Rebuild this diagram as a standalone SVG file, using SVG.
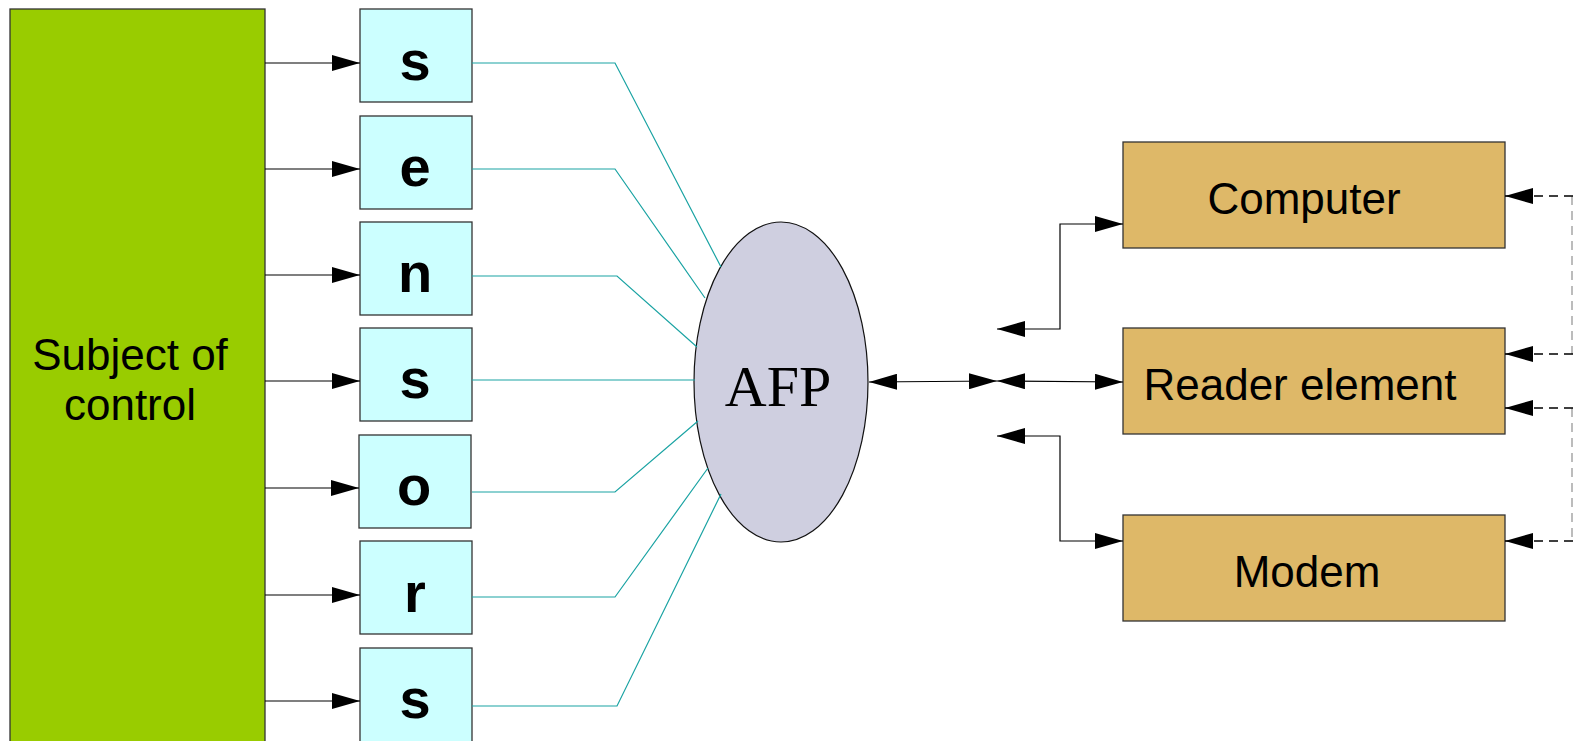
<svg xmlns="http://www.w3.org/2000/svg" width="1573" height="741" viewBox="0 0 1573 741">
<style>
.sensor{fill:#ccffff;stroke:#333;stroke-width:1.3}
.box{fill:#deb868;stroke:#333;stroke-width:1.3}
.letter{font-family:"Liberation Sans",Arial,sans-serif;font-weight:bold;font-size:56px;text-anchor:middle;fill:#000}
.lbl{font-family:"Liberation Sans",Arial,sans-serif;font-size:44px;text-anchor:middle;fill:#000}
.bl{fill:none;stroke:#000;stroke-width:1.2}
.tl{fill:none;stroke:#1aa3a3;stroke-width:1.2}
.dl{fill:none;stroke:#000;stroke-width:1.3;stroke-dasharray:9,6}
.dg{fill:none;stroke:#999;stroke-width:1.3;stroke-dasharray:9,6}
</style>
<defs>
<marker id="ah" markerWidth="28" markerHeight="16" refX="28" refY="8" orient="auto" markerUnits="userSpaceOnUse"><path d="M0,0 L28,8 L0,16 Z" fill="#000"/></marker>
<marker id="as" markerWidth="28" markerHeight="16" refX="0" refY="8" orient="auto" markerUnits="userSpaceOnUse"><path d="M28,0 L0,8 L28,16 Z" fill="#000"/></marker>
</defs>
<rect width="1573" height="741" fill="#fff"/>
<g id="subject">
<rect x="10" y="9" width="255" height="740" fill="#99cc00" stroke="#333" stroke-width="1.3"/>
<text class="lbl" x="130" y="370">Subject of</text>
<text class="lbl" x="130" y="420">control</text>
</g>
<g id="sensor1"><rect class="sensor" x="360" y="9" width="112" height="93"/><text class="letter" x="415" y="80">s</text></g>
<g id="sensor2"><rect class="sensor" x="360" y="116" width="112" height="93"/><text class="letter" x="415" y="186">e</text></g>
<g id="sensor3"><rect class="sensor" x="360" y="222" width="112" height="93"/><text class="letter" x="415" y="292">n</text></g>
<g id="sensor4"><rect class="sensor" x="360" y="328" width="112" height="93"/><text class="letter" x="415" y="398">s</text></g>
<g id="sensor5"><rect class="sensor" x="359" y="435" width="112" height="93"/><text class="letter" x="414" y="505">o</text></g>
<g id="sensor6"><rect class="sensor" x="360" y="541" width="112" height="93"/><text class="letter" x="415" y="612">r</text></g>
<g id="sensor7"><rect class="sensor" x="360" y="648" width="112" height="100"/><text class="letter" x="415" y="718">s</text></g>
<g id="afp">
<ellipse cx="781" cy="382" rx="87" ry="160" fill="#cfcfe0" stroke="#111" stroke-width="1.2"/>
<text x="778" y="406" font-family="Liberation Serif,Times New Roman,serif" font-size="58" text-anchor="middle" fill="#000">AFP</text>
</g>
<g id="computer"><rect class="box" x="1123" y="142" width="382" height="106"/><text class="lbl" x="1304" y="214">Computer</text></g>
<g id="reader"><rect class="box" x="1123" y="328" width="382" height="106"/><text class="lbl" x="1300" y="400">Reader element</text></g>
<g id="modem"><rect class="box" x="1123" y="515" width="382" height="106"/><text class="lbl" x="1307" y="587">Modem</text></g>
<g id="connectors">
<path class="bl" d="M265,63 L360,63" marker-end="url(#ah)"/>
<path class="bl" d="M265,169 L360,169" marker-end="url(#ah)"/>
<path class="bl" d="M265,275 L360,275" marker-end="url(#ah)"/>
<path class="bl" d="M265,381 L360,381" marker-end="url(#ah)"/>
<path class="bl" d="M265,488 L359,488" marker-end="url(#ah)"/>
<path class="bl" d="M265,595 L360,595" marker-end="url(#ah)"/>
<path class="bl" d="M265,701 L360,701" marker-end="url(#ah)"/>
<path class="tl" d="M472,63 L615,63 L721,267"/>
<path class="tl" d="M472,169 L615,169 L705,298"/>
<path class="tl" d="M472,276 L617,276 L697,347"/>
<path class="tl" d="M472,380 L695,380"/>
<path class="tl" d="M472,492 L615,492 L698,421"/>
<path class="tl" d="M472,597 L615,597 L708,468"/>
<path class="tl" d="M472,706 L617,706 L721,494"/>
<path class="bl" d="M869,382 L997,381" marker-start="url(#as)" marker-end="url(#ah)"/>
<path class="bl" d="M997,381 L1123,382" marker-start="url(#as)" marker-end="url(#ah)"/>
<path class="bl" d="M997,329 L1060,329 L1060,224 L1123,224" marker-start="url(#as)" marker-end="url(#ah)"/>
<path class="bl" d="M997,436 L1060,436 L1060,541 L1123,541" marker-start="url(#as)" marker-end="url(#ah)"/>
<path class="dg" d="M1572,196 L1572,354"/>
<path class="dg" d="M1572,408 L1572,541"/>
<path class="dl" d="M1573,196 L1505,196" marker-end="url(#ah)"/>
<path class="dl" d="M1573,354 L1505,354" marker-end="url(#ah)"/>
<path class="dl" d="M1573,408 L1505,408" marker-end="url(#ah)"/>
<path class="dl" d="M1573,541 L1505,541" marker-end="url(#ah)"/>
</g>
</svg>
